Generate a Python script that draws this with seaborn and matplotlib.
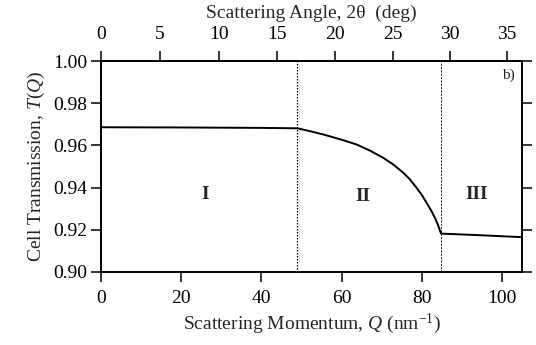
import numpy as np
import pandas as pd
import matplotlib
matplotlib.use("Agg")
import matplotlib.pyplot as plt
import seaborn as sns

# ---- data ----
q_values = [0, 20, 40, 49.0, 52.0, 55.4, 60.0, 63.8, 67.0, 70.4, 73.0, 75.4, 77.0,
            78.7, 80.0, 81.2, 82.3, 83.3, 84.0, 84.8, 95.0, 105.0]
t_values = [0.9686, 0.9685, 0.9683, 0.9681, 0.9668, 0.9652, 0.9627, 0.9604, 0.9576,
            0.9541, 0.9508, 0.9470, 0.9440, 0.9399, 0.9366, 0.9328, 0.9293, 0.9256,
            0.9225, 0.9182, 0.9174, 0.9165]
boundaries = [49.0, 84.8]
region_labels = ["I", "II", "III"]
region_q = [26.0, 65.3, 93.7]
region_t = [0.9365, 0.9360, 0.9365]
q_ticks = [0, 20, 40, 60, 80, 100]
t_ticks = [0.90, 0.92, 0.94, 0.96, 0.98, 1.00]
angle_ticks = [0, 5, 10, 15, 20, 25, 30, 35]
Q_PER_SIN = 336.5  # 4*pi/lambda, nm^-1

df = pd.DataFrame({"Q": q_values, "T": t_values})

sns.set_theme(style="ticks")
plt.rcParams["font.family"] = ["Liberation Serif", "DejaVu Serif"]
plt.rcParams["mathtext.fontset"] = "custom"
plt.rcParams["mathtext.it"] = "Liberation Serif:italic"
plt.rcParams["mathtext.rm"] = "Liberation Serif"

fig = plt.figure(figsize=(5.36, 3.45), dpi=100)
ax = fig.add_axes([101/536, 1 - 272/345, 421/536, 211/345])

sns.lineplot(data=df, x="Q", y="T", color="black", linewidth=1.4, ax=ax)

ax.axvline(boundaries[0], color="black", linestyle=(0, (1.2, 1.2)), linewidth=0.9)
ax.axvline(boundaries[1], color="black", linestyle=(0, (2.5, 1.5)), linewidth=0.6)

for lab, xq, yt in zip(region_labels, region_q, region_t):
    ax.text(xq, yt, lab, ha="center", va="center", fontsize=14, fontweight="bold")

ax.text(101.7, 0.9934, "b)", ha="center", va="center", fontsize=11)

ax.set_xlim(0, 105)
ax.set_ylim(0.90, 1.00)
ax.set_xticks(q_ticks)
ax.set_yticks(t_ticks)
ax.set_yticklabels([f"{v:.2f}" for v in t_ticks])
ax.set_xlabel(r"Scattering Momentum, $Q$ (nm$^{{-}1}$)", fontsize=14, labelpad=3)
ax.set_ylabel(r"Cell Transmission, $T$($Q$)", fontsize=14, labelpad=4)

for s in ax.spines.values():
    s.set_linewidth(1.4)
    s.set_color("black")
ax.tick_params(axis="both", which="major", direction="out", length=7, width=1.1,
               labelsize=14, colors="black", pad=3)
ax.tick_params(axis="x", pad=6)
ax.tick_params(axis="y", right=True, labelright=False)

def q2ang(q):
    return 2 * np.degrees(np.arcsin(np.clip(np.asarray(q, dtype=float) / Q_PER_SIN, -1, 1)))

def ang2q(a):
    return Q_PER_SIN * np.sin(np.radians(np.asarray(a, dtype=float) / 2))

sec = ax.secondary_xaxis("top", functions=(q2ang, ang2q))
sec.set_xticks(angle_ticks)
sec.tick_params(direction="out", length=7, width=1.1, labelsize=14, colors="black", pad=6)
sec.spines["top"].set_linewidth(1.4)
sec.set_xlabel("Scattering Angle, 2\u03b8  (deg)", fontsize=14, labelpad=6)

fig.savefig("out.png", dpi=100)
